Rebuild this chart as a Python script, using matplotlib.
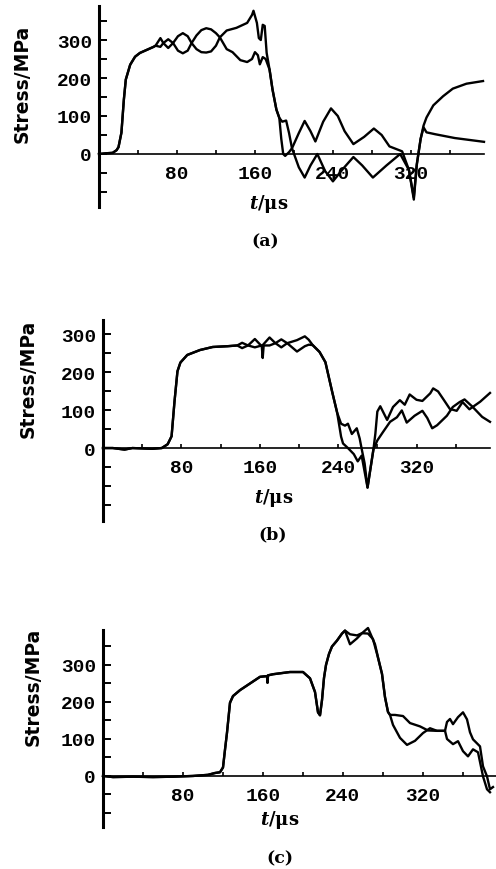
import matplotlib.pyplot as plt

# ---- panel (a) ----
a1_t = [0, 8, 14, 18, 20, 23, 25.5, 27.5, 32, 37, 42, 49, 56, 58, 63, 66, 71, 76, 81, 86, 91, 95,
        100, 105, 110, 115, 120, 124, 131, 141, 152, 157, 158.5, 162, 164, 166, 168, 170, 172,
        175, 178, 182, 185, 188, 192, 195, 198, 205, 211, 217, 224, 232, 240, 250, 261, 270,
        281, 295, 309, 318, 323, 326, 330, 333, 336, 343, 353, 363, 377, 394]
a1_y = [0, 2, 3, 10, 18, 56, 143, 196, 235, 256, 266, 274, 282, 285, 305, 292, 279, 292, 310, 318,
        310, 292, 276, 268, 267, 270, 285, 307, 325, 332, 345, 366, 377, 345, 305, 300, 340, 337,
        266, 222, 170, 117, 95, 85, 88, 55, 15, -35, -62, -30, 0, -45, -72, -40, -8, -30,
        -62, -30, 0, -42, -120, -30, 40, 75, 96, 128, 152, 172, 185, 192]

a2_t = [0, 8, 14, 18, 20, 23, 25.5, 27.5, 32, 37, 42, 49, 56, 58, 63, 66, 71, 76, 81, 86, 91, 95,
        100, 105, 110, 115, 120, 124, 131, 137, 145, 152, 157, 160, 163, 165, 168, 171, 175,
        178, 182, 185, 187, 189, 191, 195, 198, 205, 211, 217, 222, 230, 238, 245, 252, 261,
        272, 282, 290, 298, 311, 318, 323, 326, 330, 333, 336, 345, 353, 365, 380, 395]
a2_y = [0, 2, 3, 10, 18, 56, 143, 196, 235, 256, 266, 274, 282, 285, 282, 292, 302, 292, 272, 265,
        272, 292, 312, 326, 331, 328, 318, 307, 276, 268, 247, 242, 250, 268, 260, 236, 255, 250,
        222, 170, 117, 95, 40, 0, -5, 5, 15, 55, 87, 60, 33, 85, 120, 100, 60, 26,
        45, 67, 50, 20, 7, -42, -114, -27, 40, 70, 57, 52, 48, 42, 37, 32]

# ---- panel (b) ----
b1_t = [0, 10, 22, 30, 50, 60, 66, 70, 73, 76, 79, 86, 99, 112, 127, 137, 142, 148, 155, 162,
        170, 176, 182, 188, 198, 206, 210, 214, 221, 227, 230, 234, 239, 243, 247, 250, 254,
        259, 262, 264, 267, 270, 276, 278, 280, 283, 290, 296, 303, 308, 313, 320, 326, 334,
        337, 342, 347, 354, 361, 367, 374, 385, 395]
b1_y = [0, 0, -4, 0, -2, 0, 10, 31, 123, 202, 225, 245, 258, 266, 268, 270, 277, 270, 287, 268,
        291, 276, 286, 276, 284, 294, 285, 271, 253, 226, 192, 147, 93, 64, 59, 64, 37,
        52, 25, -2, -40, -104, -4, 38, 96, 110, 74, 108, 126, 114, 141, 127, 124, 144,
        157, 149, 130, 103, 98, 121, 102, 122, 145]

b2_t = [0, 10, 22, 30, 50, 60, 66, 70, 73, 76, 79, 86, 99, 112, 127, 137, 142, 148, 155, 162,
        163, 164, 170, 176, 182, 188, 198, 206, 210, 214, 221, 227, 230, 234, 239, 243, 245,
        250, 256, 260, 264, 270, 276, 280, 286, 293, 300, 305, 310, 318, 326, 331, 336, 341,
        351, 357, 364, 369, 377, 387, 395]
b2_y = [0, 0, -4, 0, -2, 0, 10, 31, 123, 202, 225, 245, 258, 266, 268, 270, 263, 270, 265, 270,
        237, 270, 270, 276, 265, 276, 254, 268, 272, 271, 253, 226, 192, 147, 93, 30, 12,
        0, -16, -35, -20, -104, -4, 20, 43, 69, 81, 99, 67, 85, 98, 79, 52, 60,
        85, 108, 121, 128, 109, 82, 69]

# ---- panel (c) ----
c1_t = [0, 10, 30, 50, 70, 90, 105, 112, 117, 120, 122, 124, 127, 130, 137, 147, 157, 164,
        164.5, 165, 170, 187, 200, 207, 212, 215, 217, 219, 221, 223, 226, 229, 234, 239, 242,
        247, 254, 259, 265, 272, 275, 279, 282, 285, 287, 292, 300, 307, 317, 325, 334, 342,
        344, 347, 350, 355, 360, 364, 367, 370, 377, 380, 384, 387, 390]
c1_y = [0, -3, -2, -3, -2, 0, 3, 8, 10, 23, 71, 117, 198, 216, 232, 250, 268, 270,
        252, 272, 275, 281, 281, 264, 227, 172, 164, 205, 265, 300, 330, 350, 366, 385, 393,
        383, 380, 386, 400, 356, 321, 276, 213, 173, 165, 165, 162, 143, 134, 123, 122, 122,
        146, 154, 140, 159, 172, 153, 118, 99, 80, 26, -1, -36, -30]

c2_t = [0, 10, 30, 50, 70, 90, 105, 112, 117, 120, 122, 124, 127, 130, 137, 147, 157, 164,
        164.5, 165, 170, 187, 200, 207, 212, 215, 217, 219, 221, 223, 226, 229, 234, 239, 242,
        247, 254, 259, 265, 270, 274, 279, 282, 285, 287, 290, 297, 304, 312, 320, 327, 334,
        342, 344, 350, 355, 360, 365, 370, 375, 380, 384, 387]
c2_y = [0, -3, -2, -3, -2, 0, 3, 8, 10, 23, 71, 117, 198, 216, 232, 250, 268, 270,
        252, 272, 275, 281, 281, 264, 227, 172, 164, 205, 265, 300, 330, 350, 366, 385, 393,
        356, 372, 386, 385, 370, 330, 276, 213, 173, 165, 138, 103, 84, 95, 116, 129, 122,
        122, 100, 86, 94, 67, 53, 72, 64, -1, -36, -44]

y_labels = [0, 100, 200, 300]
x_labels = [80, 160, 240, 320]


def main():
    plt.rcParams['mathtext.fontset'] = 'custom'
    plt.rcParams['mathtext.it'] = 'DejaVu Serif:italic:bold'

    fig = plt.figure(figsize=(4.96, 8.7), dpi=100)

    panels = [
        # rect, xmax, ylim, minor y ticks, ylabel pos, xlabel pos, tag pos
        ([99 / 496, 1 - 208 / 870, 385 / 496, 201 / 870], 395, (-139.5, 389.5),
         [-100, -50, 50, 150, 250, 350], (-0.2, 0.62), (0.44, 0.02), (0.534, 0.722), "(a)",
         [(a1_t, a1_y), (a2_t, a2_y)]),
        ([103 / 496, 1 - 522 / 870, 387 / 496, 201 / 870], 395, (-192, 337),
         [-150, -100, -50, 50, 150, 250], (-0.194, 0.71), (0.44, 0.12), (0.55, 0.385), "(b)",
         [(b1_t, b1_y), (b2_t, b2_y)]),
        ([103 / 496, 1 - 828 / 870, 393 / 496, 197 / 870], 393, (-138, 394.6),
         [-100, -50, 50, 150, 250, 350], (-0.178, 0.716), (0.45, 0.04), (0.565, 0.0125), "(c)",
         [(c1_t, c1_y), (c2_t, c2_y)]),
    ]

    for rect, xmax, ylim, yminor, ylab, xlab, tag, name, curves in panels:
        ax = fig.add_axes(rect)
        for t, y in curves:
            ax.plot(t, y, color="black", lw=1.7, clip_on=False)

        ax.set_xlim(0, xmax)
        ax.set_ylim(*ylim)
        ax.spines["top"].set_visible(False)
        ax.spines["right"].set_visible(False)
        ax.spines["bottom"].set_position(("data", 0))
        ax.spines["bottom"].set_linewidth(1.2)
        ax.spines["left"].set_linewidth(2.2)

        ax.set_yticks(y_labels)
        ax.set_yticks(yminor, minor=True)
        ax.set_xticks(x_labels)
        ax.set_xticks([40, 120, 200, 280, 360], minor=True)
        ax.tick_params(axis="y", which="both", direction="in", length=6, width=1.4, pad=5)
        ax.tick_params(axis="x", which="both", direction="in", length=3, width=1.2, pad=8)
        for lab in ax.get_xticklabels() + ax.get_yticklabels():
            lab.set_family("Liberation Mono")
            lab.set_fontweight("bold")
            lab.set_fontsize(14)

        ax.set_ylabel("Stress/MPa", fontsize=13.5, fontweight="bold", family="DejaVu Sans")
        ax.yaxis.set_label_coords(*ylab)
        ax.yaxis.label.set_va("center")
        ax.set_xlabel(r"$t$/μs", fontsize=13, fontweight="bold", family="DejaVu Serif")
        ax.xaxis.set_label_coords(*xlab)
        ax.xaxis.label.set_va("center")

        fig.text(tag[0], tag[1], name, ha="center", va="center", fontsize=12.5,
                 fontweight="bold", family="DejaVu Serif")

    fig.savefig("out.png", dpi=100)


if __name__ == "__main__":
    main()
